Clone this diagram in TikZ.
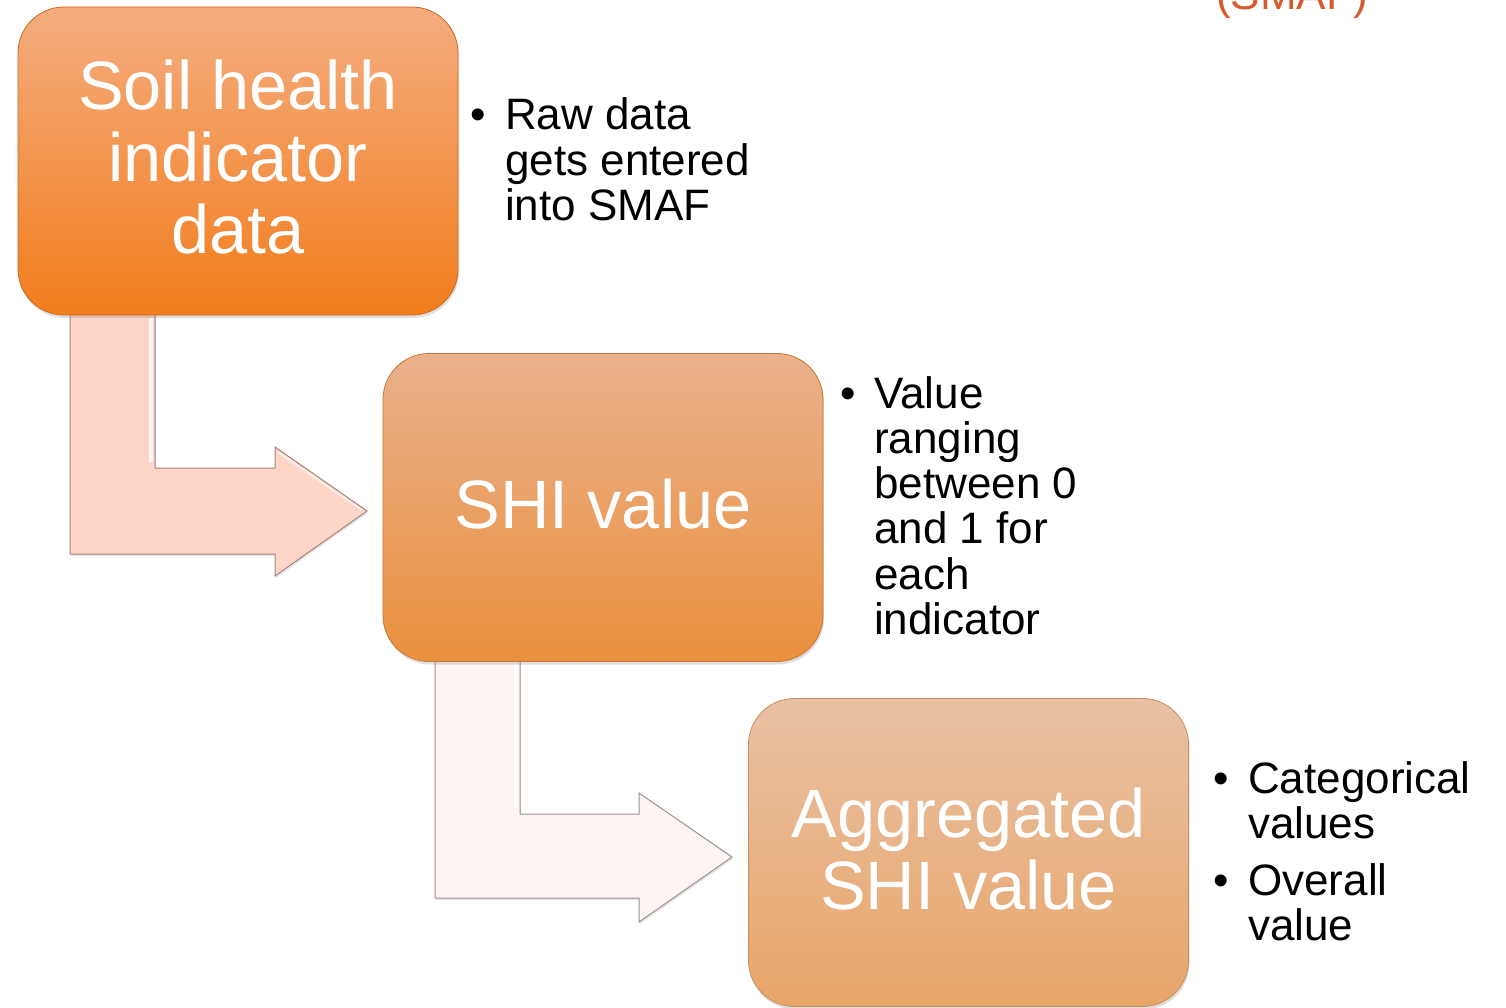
\documentclass[tikz,border=0pt]{standalone}
\usepackage{fontspec}
\setmainfont{Liberation Sans}
\usetikzlibrary{shadows}
\definecolor{bAtop}{HTML}{F4AD80}
\definecolor{bAbot}{HTML}{F27D1C}
\definecolor{bAedge}{HTML}{C9691E}
\definecolor{bBtop}{HTML}{EAB18C}
\definecolor{bBbot}{HTML}{EA903E}
\definecolor{bBedge}{HTML}{C47634}
\definecolor{bCtop}{HTML}{E8C1A4}
\definecolor{bCbot}{HTML}{E8A568}
\definecolor{bCedge}{HTML}{C48E60}
\definecolor{arrA}{HTML}{FDD6C8}
\definecolor{arrAedge}{HTML}{A8837A}
\definecolor{arrB}{HTML}{FEF5F2}
\definecolor{arrBedge}{HTML}{9A9391}
\definecolor{smafred}{HTML}{D65A2E}
\begin{document}
\begin{tikzpicture}[x=1pt,y=-1pt,
  stepbox/.style={rectangle, rounded corners=46pt, inner sep=0pt, line width=0.8pt,
    minimum width=440pt, minimum height=308pt,
    drop shadow={opacity=0.25, shadow xshift=1pt, shadow yshift=-3pt}},
  boxtext/.style={inner sep=0pt, text=white, font=\fontsize{68.5}{72}\selectfont},
  bullettext/.style={inner sep=0pt, text=black, font=\fontsize{44}{44.8}\selectfont},
  bentarrow/.style={line width=1pt, line join=miter,
    drop shadow={opacity=0.2, shadow xshift=1pt, shadow yshift=-2pt}}]
\useasboundingbox (0,0) rectangle (1506,1008);

% top-right partially visible title fragment
\node[anchor=base west, inner sep=0pt, text=smafred, font=\fontsize{44}{44}\selectfont] (smaf) at (1216,10) {(SMAF)};

% bent arrows (drawn first, tops hidden under boxes)
\path[bentarrow, fill=arrA, draw=arrAedge]
  (70,300) -- (155,300) -- (155,468) -- (275,468) -- (275,447) -- (367,511)
  -- (275,576) -- (275,554) -- (70,554) -- cycle;
\draw[white, line width=4pt, opacity=0.8] (151,318) -- (151,462);
\draw[white, line width=2pt, opacity=0.6] (278,452) -- (362,510);

\path[bentarrow, fill=arrB, draw=arrBedge]
  (435,645) -- (520,645) -- (520,814) -- (639,814) -- (639,793) -- (732,857)
  -- (639,922) -- (639,898) -- (435,898) -- cycle;
\draw[white, line width=4pt, opacity=0.9] (516,664) -- (516,808);

% boxes
\node[stepbox, top color=bAtop, bottom color=bAbot, draw=bAedge] (b1) at (238,161) {};
\node[stepbox, top color=bBtop, bottom color=bBbot, draw=bBedge] (b2) at (603,507.5) {};
\node[stepbox, top color=bCtop, bottom color=bCbot, draw=bCedge] (b3) at (968.5,852.5) {};

% box labels
\node[boxtext, anchor=base] (t1) at (238,110)
  {\begin{tabular}[t]{@{}c@{}}Soil health\\indicator\\data\end{tabular}};
\node[boxtext, anchor=base] (t2) at (603,528)
  {\begin{tabular}[t]{@{}c@{}}SHI value\end{tabular}};
\node[boxtext, anchor=base] (t3) at (968.5,837)
  {\begin{tabular}[t]{@{}c@{}}Aggregated\\SHI value\end{tabular}};

% bullet notes
\node[bullettext, anchor=base west] (n1) at (470,130)
  {\begin{tabular}[t]{@{}l@{}l@{}}\makebox[35pt][l]{\textbullet}&Raw data\\&gets entered\\&into SMAF\end{tabular}};
\node[bullettext, anchor=base west] (n2) at (840,408)
  {\begin{tabular}[t]{@{}l@{}l@{}}\makebox[34pt][l]{\textbullet}&Value\\&ranging\\&between 0\\&and 1 for\\&each\\&indicator\end{tabular}};
\node[bullettext, anchor=base west] (n3) at (1213,793)
  {\begin{tabular}[t]{@{}l@{}l@{}}\makebox[35pt][l]{\textbullet}&Categorical\\&values\\[12pt]\textbullet&Overall\\&value\end{tabular}};
\end{tikzpicture}
\end{document}
